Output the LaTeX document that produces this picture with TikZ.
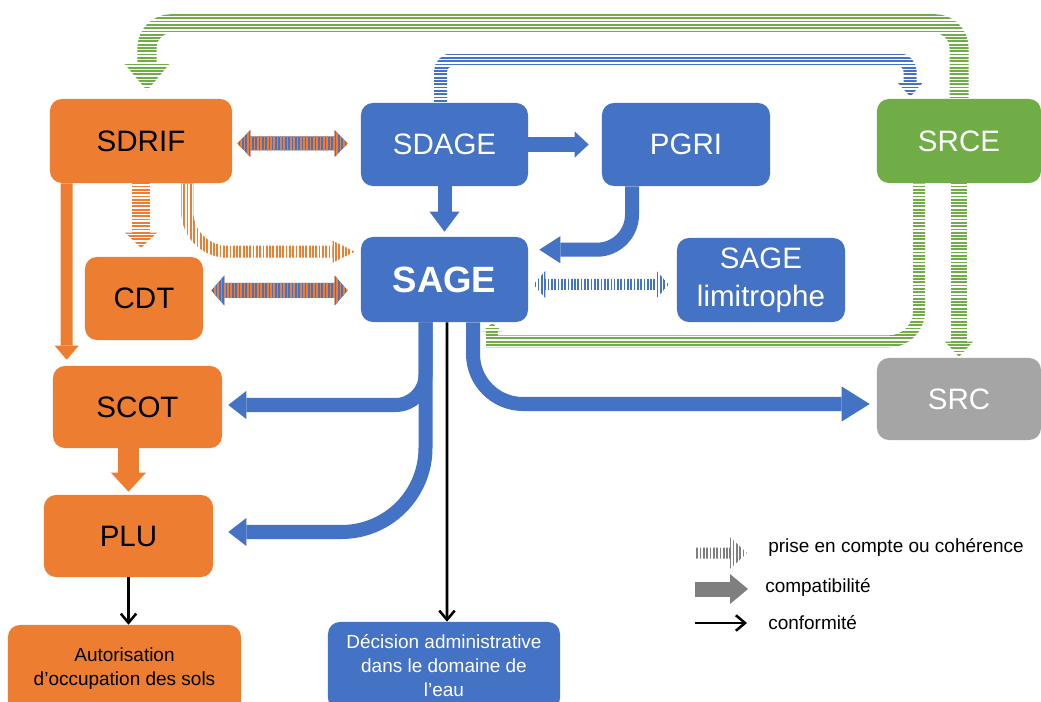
\documentclass[tikz,border=0pt]{standalone}
\usepackage{fontspec}
\setmainfont{Liberation Sans}
\usepackage{tikz}
\usetikzlibrary{positioning,calc,arrows.meta,patterns.meta,backgrounds}
\definecolor{org}{HTML}{ED7D31}
\definecolor{blu}{HTML}{4472C4}
\definecolor{grn}{HTML}{70AD47}
\definecolor{gry}{HTML}{A5A5A5}
\definecolor{dgry}{HTML}{7F7F7F}
\newcommand*{\bigf}{\fontsize{21}{26}\selectfont}
\newcommand*{\smallf}{\fontsize{13.5}{17}\selectfont}
\tikzset{
  box/.style={rounded corners=0.3cm, inner sep=0pt, align=center, font=\bigf},
  comp/.style={line width=0.35cm, -{Triangle[width=0.75cm,length=0.5cm,line width=0pt]}},
  conf/.style={line width=1.8pt, -{Straight Barb[length=6.5pt,width=11pt]}},
  vlines/.style={pattern={Lines[angle=90,distance=2.35pt,line width=1.2pt]}, pattern color=#1},
}

\begin{document}
\begin{tikzpicture}[x=0.025cm, y=-0.025cm]
\useasboundingbox (0,0) rectangle (1041,702);

% boxes
\node[box, fill=org, minimum width=4.55cm, minimum height=2.1cm] (SDRIF) at (141,141) {SDRIF};
\node[box, fill=blu, text=white, minimum width=4.175cm, minimum height=2.075cm] (SDAGE) at (444.5,144.5) {SDAGE};
\node[box, fill=blu, text=white, minimum width=4.2cm, minimum height=2.075cm] (PGRI) at (686,144.5) {PGRI};
\node[box, fill=grn, text=white, minimum width=4.1cm, minimum height=2.1cm] (SRCE) at (959,141) {SRCE};
\node[box, fill=blu, text=white, minimum width=4.175cm, minimum height=2.125cm, font=\fontsize{26}{30}\selectfont\bfseries] (SAGE) at (444.5,279.5) {SAGE};
\node[box, fill=blu, text=white, minimum width=4.2cm, minimum height=2.1cm] (SAGElim) at (761,280) {SAGE\\[1pt]limitrophe};
\node[box, fill=org, minimum width=2.95cm, minimum height=2.075cm] (CDT) at (144,298.5) {CDT};
\node[box, fill=org, minimum width=4.225cm, minimum height=2.05cm] (SCOT) at (137.5,407) {SCOT};
\node[box, fill=gry, text=white, minimum width=4.1cm, minimum height=2.05cm] (SRC) at (959,399) {SRC};
\node[box, fill=org, minimum width=4.225cm, minimum height=2.05cm] (PLU) at (128.5,536) {PLU};
\node[box, fill=org, font=\smallf, minimum width=5.825cm, minimum height=2.2cm] (AOS) at (124.5,669) {Autorisation\\d’occupation des sols};
\node[box, fill=blu, text=white, font=\smallf, minimum width=5.8cm, minimum height=2.2cm] (DEC) at (444,666) {Décision administrative\\dans le domaine de\\l’eau};

% prise en compte (stripes)
\begin{pgfonlayer}{background}
\draw[grn, line width=0.475cm, rounded corners=0.6cm, -{Triangle[width=1.125cm,length=0.675cm,line width=0pt]}] (SRCE.north) -- ++(0,-75) -| ($(SDRIF.north)+(6,-8)$);
\draw[blu, line width=0.325cm, rounded corners=0.3cm, -{Triangle[width=0.625cm,length=0.35cm,line width=0pt]}] ($(SDAGE.north)+(-4,0)$) -- ++(0,-43) -| ($(SRCE.north west)+(33.5,-2)$);
\draw[grn, line width=0.4cm, -{Triangle[width=0.7cm,length=0.375cm,line width=0pt]}] (SRCE.south) -- ($(SRC.north)+(0,-1)$);
\draw[grn, line width=0.3cm, rounded corners=0.75cm] ($(SRCE.south)+(-40,0)$) |- ($(SAGE.south east)+(-42,19)$);
\draw[grn, line width=0.3cm, -{Triangle[width=0.5cm,length=0.2cm,line width=0pt]}] ($(SAGE.south east)+(-36,25)$) -- ($(SAGE.south east)+(-36,1)$);
\draw[org, line width=0.45cm, -{Triangle[width=0.8cm,length=0.375cm,line width=0pt]}] (SDRIF.south) -- ($(SDRIF.south |- CDT.north)+(0,-9)$);
\foreach \k in {0,...,112}
  \draw[white, line width=1pt] (0,{10+\k*3.3}) -- (1041,{10+\k*3.3});
\draw[org, line width=0.3cm, rounded corners=1cm, -{Triangle[width=0.55cm,length=0.55cm,line width=0pt]}] ($(SDRIF.south east)+(-45,0)$) |- ($(SAGE.north west)+(-6,15)$);
\foreach \k in {0,...,56}
  \draw[white, line width=1pt] ({176+\k*3.3},184) -- ++(0,84);
\end{pgfonlayer}

\coordinate (l1) at ($(SDRIF.east)+(5,2.5)$);
\coordinate (r1) at ($(SDAGE.west)+(-13,-1)$);
\path[vlines=org, preaction={fill=blu}] (l1) -- ++(13,-13.5) -- ++(0,6.5) -- ($(r1)+(-13,-7)$) -- ++(0,-6.5) -- (r1) -- ++(-13,13.5) -- ++(0,-6.5) -- ($(l1)+(13,7)$) -- ++(0,6.5) -- cycle;
\coordinate (l2) at ($(CDT.east)+(8,-8)$);
\coordinate (r2) at ($(SAGE.west)+(-13,11)$);
\path[vlines=org, preaction={fill=blu}] (l2) -- ++(13,-15) -- ++(0,7.5) -- ($(r2)+(-13,-7.5)$) -- ++(0,-7.5) -- (r2) -- ++(-13,15) -- ++(0,-7.5) -- ($(l2)+(13,7.5)$) -- ++(0,7.5) -- cycle;
\coordinate (l3) at ($(SAGE.east)+(5,5)$);
\coordinate (r3) at ($(SAGElim.west)+(-8,4.5)$);
\path[vlines=blu] (l3) -- ++(12,-13.5) -- ++(0,8) -- ($(r3)+(-12,-5.5)$) -- ++(0,-8) -- (r3) -- ++(-12,13.5) -- ++(0,-8) -- ($(l3)+(12,5.5)$) -- ++(0,8) -- cycle;

% compatibilite
\draw[comp, blu, -{Triangle[width=0.65cm,length=0.35cm,line width=0pt]}] (SDAGE.east) -- ($(PGRI.west)+(-13,0)$);
\draw[comp, blu] (SDAGE.south) -- ($(SAGE.north)+(0,-5)$);
\draw[comp, blu, rounded corners=0.875cm, -{Triangle[width=0.675cm,length=0.525cm,line width=0pt]}] ($(PGRI.south)+(-54,0)$) |- ($(SAGE.north east)+(11,13)$);
\draw[comp, blu, rounded corners=0.75cm, -{Triangle[width=0.7cm,length=0.45cm,line width=0pt]}] ($(SAGE.south)+(-19,0)$) |- ($(SCOT.east)+(6,-2)$);
\draw[comp, blu, rounded corners=2.1cm, -{Triangle[width=0.7cm,length=0.45cm,line width=0pt]}] ($(SAGE.south)+(-19,0)$) |- ($(PLU.east)+(15,-4)$);
\draw[comp, blu, rounded corners=1.25cm, -{Triangle[width=0.875cm,length=0.7cm,line width=0pt]}] ($(SAGE.south)+(28.5,0)$) |- ($(SRC.west)+(-7,5)$);
\draw[org, line width=0.3cm, -{Triangle[width=0.6cm,length=0.35cm,line width=0pt]}] ($(SDRIF.south west)+(17,0)$) -- ($(SCOT.north west)+(14,-6)$);
\draw[org, line width=0.5cm, -{Triangle[width=0.875cm,length=0.475cm,line width=0pt]}] (PLU.north |- SCOT.south) -- ($(PLU.north)+(0,-3)$);

% conformite
\draw[conf] (PLU.south) -- (PLU.south |- AOS.north);
\draw[conf] ($(SAGE.south)+(2.5,0)$) -- ($(DEC.north)+(3,0)$);

% legende
\node[anchor=west, inner sep=0pt, font=\smallf] (lgprise) at (768,547) {prise en compte ou cohérence};
\node[anchor=west, inner sep=0pt, font=\smallf] (lgcomp) at (765,587) {compatibilité};
\node[anchor=west, inner sep=0pt, font=\smallf] (lgconf) at (768,623) {conformité};
\path[vlines=dgry] ($(lgprise.west)+(-21,6)$) -- ++(-17,-16) -- ++(0,10.5) -- ++(-35,0) -- ++(0,11) -- ++(35,0) -- ++(0,10.5) -- cycle;
\draw[comp, dgry, line width=0.375cm, -{Triangle[width=0.75cm,length=0.45cm,line width=0pt]}] ($(lgcomp.west)+(-70,2)$) -- ($(lgcomp.west)+(-17,2)$);
\draw[conf] ($(lgconf.west)+(-73,0)$) -- ($(lgconf.west)+(-21,0)$);
\end{tikzpicture}
\end{document}
